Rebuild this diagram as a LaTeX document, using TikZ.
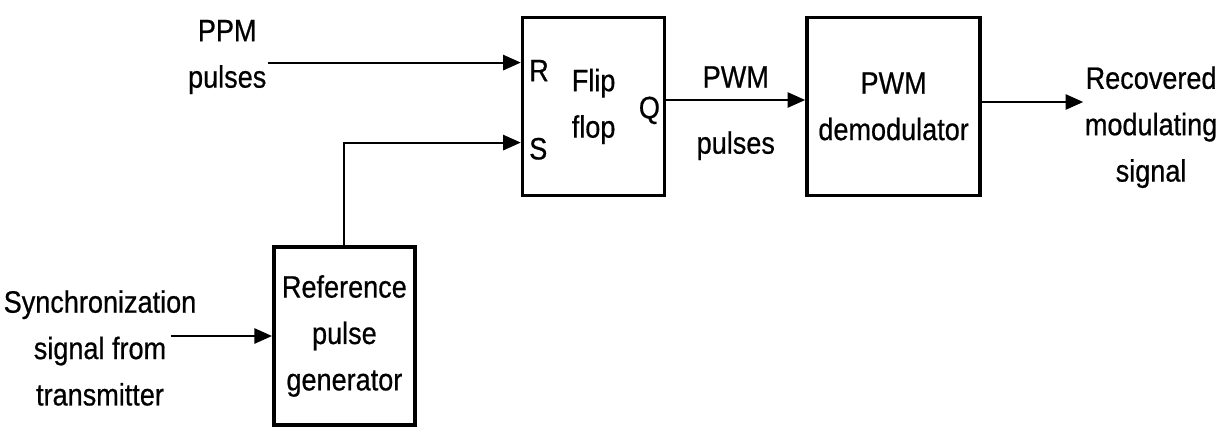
\documentclass[tikz,border=0pt]{standalone}
\usepackage{fontspec}
\setmainfont{Liberation Sans}[FakeStretch=0.875,FakeBold=0.6]
\usetikzlibrary{arrows.meta,calc}
\tikzset{
  blk/.style={rectangle, draw=black, line width=2.6pt, minimum width=#1, minimum height=4.45cm,
              align=center, inner sep=0pt, font=\fontsize{22}{33}\selectfont},
  lbl/.style={align=center, inner sep=1pt, font=\fontsize{22}{33}\selectfont},
  arr/.style={-{Triangle[length=4.4mm,width=3.8mm]}, line width=1.5pt},
}
\begin{document}
\begin{tikzpicture}
\useasboundingbox (0,0) rectangle (30.45,-10.725);
% blocks
\node[blk=3.55cm] (ff) at (14.84,-2.66) {Flip\\flop};
\node[blk=4.33cm] (demod) at (22.34,-2.66) {PWM\\demodulator};
\node[blk=3.53cm] (refgen) at (8.61,-8.4) {Reference\\pulse\\generator};
% flip flop pins
\node[lbl, anchor=west] (rpin) at ($(ff.north west)+(0.17,-1.375)$) {R};
\node[lbl, anchor=west] (spin) at ($(ff.north west)+(0.17,-3.33)$) {S};
\node[lbl, anchor=east] (qpin) at ($(ff.east)+(-0.12,-0.1)$) {Q};
\coordinate (rin) at ($(ff.north west)+(0,-1.175)$);
\coordinate (sin) at ($(ff.north west)+(0,-3.175)$);
% outer labels
\node[lbl, anchor=east] (ppm) at (6.7,-1.425) {PPM\\pulses};
\node[lbl] (sync) at (2.5,-8.7) {Synchronization\\signal from\\transmitter};
\node[lbl, anchor=west] (rec) at (27.08,-3.18) {Recovered\\modulating\\signal};
% connectors
\draw[arr] (ppm.east |- rin) -- (rin);
\draw[arr] (refgen.north) |- (sin);
\draw[arr] ($(sync.east)+(-0.68,0.3)$) coordinate (syncout) -- (syncout -| refgen.west);
\draw[arr] ($(ff.east)+(0,0.16)$) coordinate (qout) -- (qout -| demod.west)
  node[lbl, midway, above=0.25cm] (pwmtop) {PWM}
  node[lbl, midway, below=0.72cm] (pwmbot) {pulses};
\draw[arr] ($(demod.east)+(0,0.11)$) coordinate (dout) -- (dout -| rec.west);
\end{tikzpicture}
\end{document}
